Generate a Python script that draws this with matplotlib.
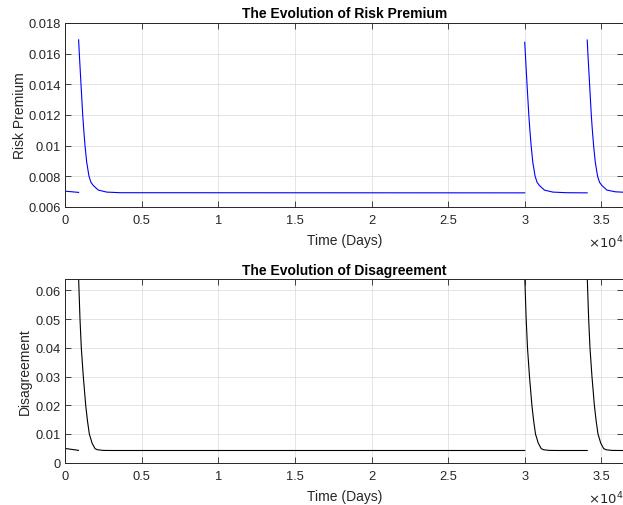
import numpy as np
import matplotlib
matplotlib.use("Agg")
import matplotlib.pyplot as plt

plt.rcParams['font.family'] = ['Liberation Sans', 'DejaVu Sans']

# risk premium (days, value) - one list per piece
rp_t1 = [0, 870]
rp_v1 = [0.00703, 0.00695]
rp_t2 = [870, 915, 1026, 1137, 1200, 1288, 1400, 1549, 1680, 1830, 2157, 2706, 3575, 30000]
rp_v2 = [0.0169, 0.0160, 0.0140, 0.0120, 0.0111, 0.0100, 0.0089, 0.0080, 0.0076, 0.0074, 0.0071,
         0.00697, 0.00693, 0.00692]
rp_t3 = [30000, 30046, 30156, 30267, 30330, 30418, 30530, 30679, 30810, 30960, 31287, 31836, 32705, 34080]
rp_v3 = [0.01674, 0.0159, 0.0139, 0.0120, 0.0111, 0.0100, 0.0089, 0.0080, 0.0076, 0.0074, 0.0071,
         0.00697, 0.00693, 0.00692]
rp_t4 = [34080, 34125, 34236, 34347, 34410, 34498, 34610, 34759, 34890, 35040, 35367, 35916, 36450]
rp_v4 = [0.01689, 0.0160, 0.0140, 0.0120, 0.0111, 0.0100, 0.0089, 0.0080, 0.0076, 0.0074, 0.0071,
         0.00699, 0.00696]

# disagreement
dg_t1 = [0, 865]
dg_v1 = [0.00495, 0.0043]
dg_t2 = [865, 960, 1046, 1176, 1333, 1450, 1569, 1750, 1941, 2100, 2484, 3000, 30000]
dg_v2 = [0.065, 0.050, 0.040, 0.030, 0.020, 0.0145, 0.010, 0.0068, 0.0049, 0.0045, 0.00428, 0.00425, 0.00425]
dg_t3 = [30000, 30095, 30181, 30311, 30468, 30585, 30704, 30885, 31076, 31235, 31619, 32135, 34080]
dg_v3 = [0.065, 0.050, 0.040, 0.030, 0.020, 0.0145, 0.010, 0.0068, 0.0049, 0.0045, 0.00428, 0.00425, 0.00425]
dg_t4 = [34080, 34175, 34261, 34391, 34548, 34665, 34784, 34965, 35156, 35315, 35699, 36215, 36450]
dg_v4 = [0.065, 0.050, 0.040, 0.030, 0.020, 0.0145, 0.010, 0.0068, 0.0049, 0.0045, 0.00428, 0.00425, 0.00425]

xticks = [0, 5000, 10000, 15000, 20000, 25000, 30000, 35000]
xtick_labels = ['0', '0.5', '1', '1.5', '2', '2.5', '3', '3.5']
rp_yticks = [0.006, 0.008, 0.010, 0.012, 0.014, 0.016, 0.018]
rp_ylabels = ['0.006', '0.008', '0.01', '0.012', '0.014', '0.016', '0.018']
dg_yticks = [0, 0.01, 0.02, 0.03, 0.04, 0.05, 0.06]
dg_ylabels = ['0', '0.01', '0.02', '0.03', '0.04', '0.05', '0.06']

dark = '#262626'

fig = plt.figure(figsize=(6.23, 5.06), dpi=100)
ax1 = fig.add_axes([0.1048, 0.589, 0.8960, 0.3636])
ax2 = fig.add_axes([0.1048, 0.0836, 0.8960, 0.3621])


def style(ax, yticks, ylabels):
    ax.set_xlim(0, 36450)
    ax.set_xticks(xticks)
    ax.set_xticklabels(xtick_labels)
    ax.set_yticks(yticks)
    ax.set_yticklabels(ylabels)
    ax.tick_params(direction='in', length=4, width=0.6, colors=dark,
                   labelsize=9.3, top=True, right=True)
    ax.tick_params(axis='x', pad=5)
    ax.tick_params(axis='y', pad=3)
    ax.grid(True, color='#dfdfdf', lw=0.6)
    ax.set_axisbelow(True)
    for s in ax.spines.values():
        s.set_color(dark)
        s.set_linewidth(0.7)
    ax.set_xlabel('Time (Days)', fontsize=10, color=dark, labelpad=5)
    ax.text(1.0, -0.145, r'$\times 10^{4}$', transform=ax.transAxes,
            ha='right', va='top', fontsize=9.5, color=dark,
            clip_on=False)


for t, v in [(rp_t1, rp_v1), (rp_t2, rp_v2), (rp_t3, rp_v3), (rp_t4, rp_v4)]:
    ax1.plot(t, v, color='#0000ff', lw=0.8)
style(ax1, rp_yticks, rp_ylabels)
ax1.set_ylim(0.006, 0.018)
ax1.set_ylabel('Risk Premium', fontsize=10, color=dark, labelpad=1)
ax1.set_title('The Evolution of Risk Premium', fontsize=10, fontweight='bold', pad=4)

for t, v in [(dg_t1, dg_v1), (dg_t2, dg_v2), (dg_t3, dg_v3), (dg_t4, dg_v4)]:
    ax2.plot(t, v, color='black', lw=0.8)
style(ax2, dg_yticks, dg_ylabels)
ax2.set_ylim(0, 0.0638)
ax2.set_ylabel('Disagreement', fontsize=10, color=dark, labelpad=3)
ax2.set_title('The Evolution of Disagreement', fontsize=10, fontweight='bold', pad=4)

fig.savefig('out.png', dpi=100)
